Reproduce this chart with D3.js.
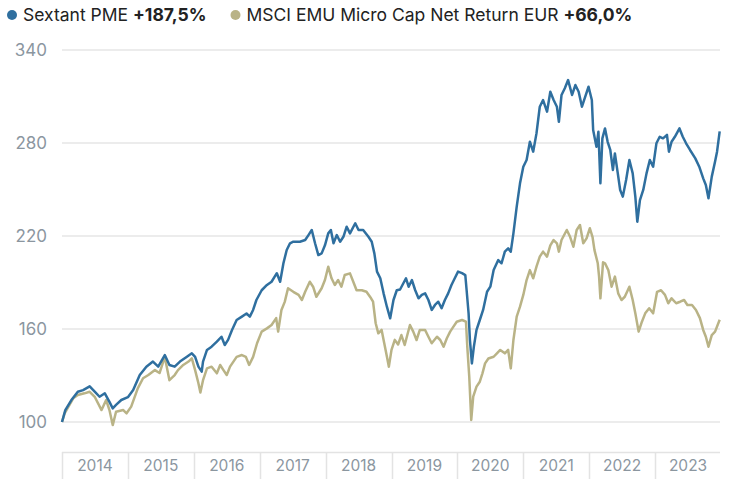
<!DOCTYPE html>
<html lang="fr">
<head>
<meta charset="UTF-8" />
<title>Sextant PME</title>
<script src="https://cdn.jsdelivr.net/npm/d3@7"></script>
<style>
  body { margin: 0; background: #fff; font-family: Inter, "Noto Sans", sans-serif; }
  svg { display: block; }
</style>
</head>
<body>
<div id="chart"></div>
<script>
// series: [decimal year, value]
var sextant = [
  [2014.00,100],[2014.05,107.7],[2014.14,114],[2014.24,119.5],[2014.32,120.6],[2014.42,123],
  [2014.50,119.5],[2014.57,116.3],[2014.65,118.5],[2014.72,113],[2014.77,108.8],[2014.82,111],
  [2014.90,114.2],[2015.00,116],[2015.08,120.6],[2015.18,130.3],[2015.28,135.7],[2015.38,139],
  [2015.46,135.7],[2015.56,143.2],[2015.63,136.8],[2015.71,135.7],[2015.79,139],[2015.89,142],
  [2015.97,144.3],[2016.02,142],[2016.07,135.7],[2016.12,132.5],[2016.14,139],[2016.20,146.5],
  [2016.27,148.6],[2016.35,151.8],[2016.42,155],[2016.47,149.7],[2016.52,153],[2016.58,159.4],
  [2016.65,165.8],[2016.73,168],[2016.80,170],[2016.85,168],[2016.90,172.3],[2016.95,178.7],
  [2017.03,185],[2017.11,188.4],[2017.18,190.5],[2017.26,196],[2017.31,190.5],[2017.36,202.4],
  [2017.41,211],[2017.46,215.3],[2017.51,216.3],[2017.61,216.3],[2017.69,217.4],[2017.74,220.6],
  [2017.79,223.9],[2017.84,215.3],[2017.89,207.7],[2017.94,208.8],[2017.99,214],[2018.04,221.7],
  [2018.08,223.9],[2018.12,215.3],[2018.17,220.6],[2018.22,216.3],[2018.27,219.5],[2018.32,226],
  [2018.37,221.7],[2018.45,228.2],[2018.50,223.9],[2018.57,223.9],[2018.65,219.5],[2018.70,216.3],
  [2018.74,208.8],[2018.78,197],[2018.83,192.7],[2018.88,183],[2018.93,174.4],[2018.98,166.9],
  [2019.03,178.7],[2019.08,185],[2019.13,185.5],[2019.18,189.5],[2019.22,192.7],[2019.26,187.3],
  [2019.31,191.6],[2019.36,185],[2019.41,179.8],[2019.46,182],[2019.51,183],[2019.56,178.7],
  [2019.61,172.3],[2019.66,175.5],[2019.71,177.6],[2019.76,173.4],[2019.81,178.7],[2019.86,183],
  [2019.91,188.4],[2019.96,192.7],[2020.01,197],[2020.07,196],[2020.12,194.8],[2020.14,185],
  [2020.17,170],[2020.19,152.9],[2020.22,137.8],[2020.25,148.6],[2020.29,159.4],[2020.34,165.8],
  [2020.39,172.3],[2020.45,184],[2020.50,187.3],[2020.55,198],[2020.62,204.5],[2020.67,202.4],
  [2020.72,209.9],[2020.77,212],[2020.81,209.9],[2020.85,221.7],[2020.90,238.9],[2020.95,254],
  [2021.00,264.7],[2021.05,269],[2021.10,280.8],[2021.15,274.4],[2021.20,286.2],[2021.25,303.4],
  [2021.30,307.7],[2021.36,300.2],[2021.41,313.1],[2021.46,307.7],[2021.51,303.4],[2021.54,293.7],
  [2021.58,311],[2021.63,315.3],[2021.68,320.6],[2021.74,311],[2021.79,317.4],[2021.84,313.1],
  [2021.89,303.4],[2021.94,309.9],[2021.99,316.3],[2022.04,307.7],[2022.06,288.4],[2022.11,277.6],
  [2022.14,287.3],[2022.17,254],[2022.20,283],[2022.24,289.4],[2022.28,280.8],[2022.32,275.5],
  [2022.36,262.6],[2022.39,273.3],[2022.43,261.5],[2022.47,249.7],[2022.51,245.4],[2022.56,256.1],
  [2022.61,269],[2022.66,260.4],[2022.70,245.4],[2022.73,229.2],[2022.77,243.2],[2022.82,249.7],
  [2022.87,260.4],[2022.92,269],[2022.97,264.7],[2023.02,279.8],[2023.07,284],[2023.12,283],
  [2023.18,285.2],[2023.21,274.4],[2023.25,280.8],[2023.30,284],[2023.37,289.4],[2023.42,284],
  [2023.47,279.8],[2023.53,275.5],[2023.61,270.1],[2023.67,264.7],[2023.73,257.2],[2023.77,252.9],
  [2023.81,244.3],[2023.86,258.3],[2023.91,268],[2023.94,274.4],[2023.98,287.5]
];

var msci = [
  [2014.00,100],[2014.04,105.6],[2014.17,115.3],[2014.24,117.4],[2014.34,118.5],[2014.42,119.5],
  [2014.50,116],[2014.60,107.7],[2014.67,114.2],[2014.72,107.7],[2014.77,98],[2014.82,106.6],
  [2014.93,107.7],[2014.98,105.6],[2015.05,109.9],[2015.15,121.7],[2015.23,128.2],[2015.31,130.3],
  [2015.41,133.5],[2015.48,131.6],[2015.56,142],[2015.63,127],[2015.71,130.3],[2015.76,133.5],
  [2015.84,136.8],[2015.92,139],[2015.97,141],[2016.02,133.5],[2016.07,125],[2016.10,119],
  [2016.14,127],[2016.20,134.6],[2016.27,135.7],[2016.35,131.4],[2016.40,136.8],[2016.45,133.5],
  [2016.50,130.3],[2016.55,135.7],[2016.65,142],[2016.73,143.2],[2016.79,142],[2016.84,136.8],
  [2016.90,142],[2016.96,150.8],[2017.03,158.3],[2017.11,160.4],[2017.18,162.6],[2017.25,167],
  [2017.28,158.3],[2017.33,172.3],[2017.38,177.5],[2017.43,186.3],[2017.51,184],[2017.59,182],
  [2017.64,178.7],[2017.69,184],[2017.76,190.5],[2017.81,187.3],[2017.86,180.8],[2017.94,186.3],
  [2017.99,191.6],[2018.04,200.2],[2018.09,192.7],[2018.14,188.4],[2018.19,191.6],[2018.24,187.3],
  [2018.29,194.8],[2018.37,195.9],[2018.42,190.5],[2018.47,185],[2018.55,185],[2018.62,184],
  [2018.69,179.8],[2018.72,177.6],[2018.76,163.7],[2018.80,157.2],[2018.85,159.4],[2018.89,150.8],
  [2018.93,142.2],[2018.96,135.7],[2019.00,146.5],[2019.05,153],[2019.10,150],[2019.15,156.1],
  [2019.20,149.7],[2019.28,162.6],[2019.33,158.3],[2019.38,152.9],[2019.43,159.4],[2019.51,159.4],
  [2019.56,155],[2019.61,150.8],[2019.69,155],[2019.74,152.9],[2019.79,148.6],[2019.84,154],
  [2019.89,158.3],[2019.94,161.5],[2019.99,164.7],[2020.07,165.8],[2020.13,164.7],[2020.15,148.6],
  [2020.18,129.2],[2020.21,101.3],[2020.24,116.3],[2020.29,122.8],[2020.34,126],[2020.38,131.4],
  [2020.42,137.8],[2020.47,141],[2020.55,142.1],[2020.60,144.3],[2020.65,146.5],[2020.72,144.3],
  [2020.77,146.5],[2020.81,134.6],[2020.85,152.9],[2020.90,168],[2020.95,174.4],[2021.00,182],
  [2021.05,191.6],[2021.10,198],[2021.15,192.7],[2021.20,200.2],[2021.25,206.7],[2021.30,209.9],
  [2021.36,206.7],[2021.41,214],[2021.46,217.4],[2021.51,215.3],[2021.54,209.9],[2021.58,217.4],
  [2021.66,223.9],[2021.71,219.5],[2021.76,213.1],[2021.81,223.9],[2021.86,227.1],[2021.91,215.3],
  [2021.96,218.5],[2022.01,225],[2022.05,219.5],[2022.08,210.9],[2022.13,202.4],[2022.15,193.8],
  [2022.17,179.8],[2022.21,203],[2022.24,202.4],[2022.29,198],[2022.34,187.3],[2022.39,193.8],
  [2022.44,183],[2022.49,178.7],[2022.54,180.8],[2022.61,187.3],[2022.66,178.7],[2022.70,170.1],
  [2022.75,158.3],[2022.80,164.7],[2022.85,170.1],[2022.91,173.4],[2022.97,170.1],[2023.03,184],
  [2023.09,185],[2023.15,182],[2023.20,176.6],[2023.25,179.8],[2023.32,176.6],[2023.38,177.6],
  [2023.44,178.7],[2023.49,175.5],[2023.56,175.5],[2023.62,172.3],[2023.68,167],[2023.73,159.4],
  [2023.77,155],[2023.81,148.6],[2023.86,156.1],[2023.91,158.3],[2023.98,166]
];

var years = [2014, 2015, 2016, 2017, 2018, 2019, 2020, 2021, 2022, 2023];
var yTicks = [100, 160, 220, 280, 340];
var legendItems = [
  { name: "Sextant PME ", perf: "+187,5%", color: "#2f6f9f" },
  { name: "MSCI EMU Micro Cap Net Return EUR ", perf: "+66,0%", color: "#b9b386" }
];

var width = 729, height = 479;
var left = 62, right = 721, axisTop = 452;

var svg = d3.select("#chart").append("svg")
  .attr("width", width)
  .attr("height", height);

var x = d3.scaleLinear().domain([2014, 2024]).range([left, right]);
var y = d3.scaleLinear().domain([100, 340]).range([422, 50]);

// grid + y labels
svg.append("g").selectAll("line")
  .data(yTicks).enter().append("line")
  .attr("x1", left).attr("x2", 720)
  .attr("y1", function(d){ return y(d); })
  .attr("y2", function(d){ return y(d); })
  .attr("stroke", "#e6e6e6")
  .attr("stroke-width", 1.5);

svg.append("g").selectAll("text")
  .data(yTicks).enter().append("text")
  .attr("x", 47)
  .attr("y", function(d){ return y(d); })
  .attr("dy", "0.35em")
  .attr("text-anchor", "end")
  .attr("fill", "#8b969f")
  .style("font-size", "17px")
  .text(function(d){ return d; });

// x axis boxes
var xa = svg.append("g");
xa.append("line")
  .attr("x1", left).attr("x2", 720)
  .attr("y1", axisTop + 0.5).attr("y2", axisTop + 0.5)
  .attr("stroke", "#e3e3e3").attr("stroke-width", 1.5);
xa.selectAll("line.sep")
  .data(years).enter().append("line")
  .attr("class", "sep")
  .attr("x1", function(d){ return Math.round(x(d)) + 0.5; })
  .attr("x2", function(d){ return Math.round(x(d)) + 0.5; })
  .attr("y1", axisTop).attr("y2", height)
  .attr("stroke", "#e3e3e3").attr("stroke-width", 1.5);
xa.selectAll("text")
  .data(years).enter().append("text")
  .attr("x", function(d){ return x(d + 0.5); })
  .attr("y", 466)
  .attr("dy", "0.35em")
  .attr("text-anchor", "middle")
  .attr("fill", "#8b969f")
  .style("font-size", "15.5px")
  .text(function(d){ return d; });

// lines
var line = d3.line()
  .x(function(d){ return x(d[0]); })
  .y(function(d){ return y(d[1]); });

svg.append("path").datum(msci)
  .attr("d", line)
  .attr("fill", "none")
  .attr("stroke", legendItems[1].color)
  .attr("stroke-width", 2.5)
  .attr("stroke-linejoin", "round");

svg.append("path").datum(sextant)
  .attr("d", line)
  .attr("fill", "none")
  .attr("stroke", legendItems[0].color)
  .attr("stroke-width", 2.5)
  .attr("stroke-linejoin", "round");

// legend
var lg = svg.append("g").attr("transform", "translate(7,15)");
var lx = 0;
legendItems.forEach(function(it){
  var g = lg.append("g").attr("transform", "translate(" + lx + ",0)");
  g.append("circle").attr("cx", 5).attr("cy", 0).attr("r", 5).attr("fill", it.color);
  var t = g.append("text")
    .attr("x", 16).attr("y", 0).attr("dy", "0.35em")
    .attr("fill", "#222")
    .style("font-size", "17.5px");
  t.append("tspan").text(it.name);
  t.append("tspan").attr("font-weight", "bold").text(it.perf);
  lx += 16 + t.node().getComputedTextLength() + 24;
});
</script>
</body>
</html>
